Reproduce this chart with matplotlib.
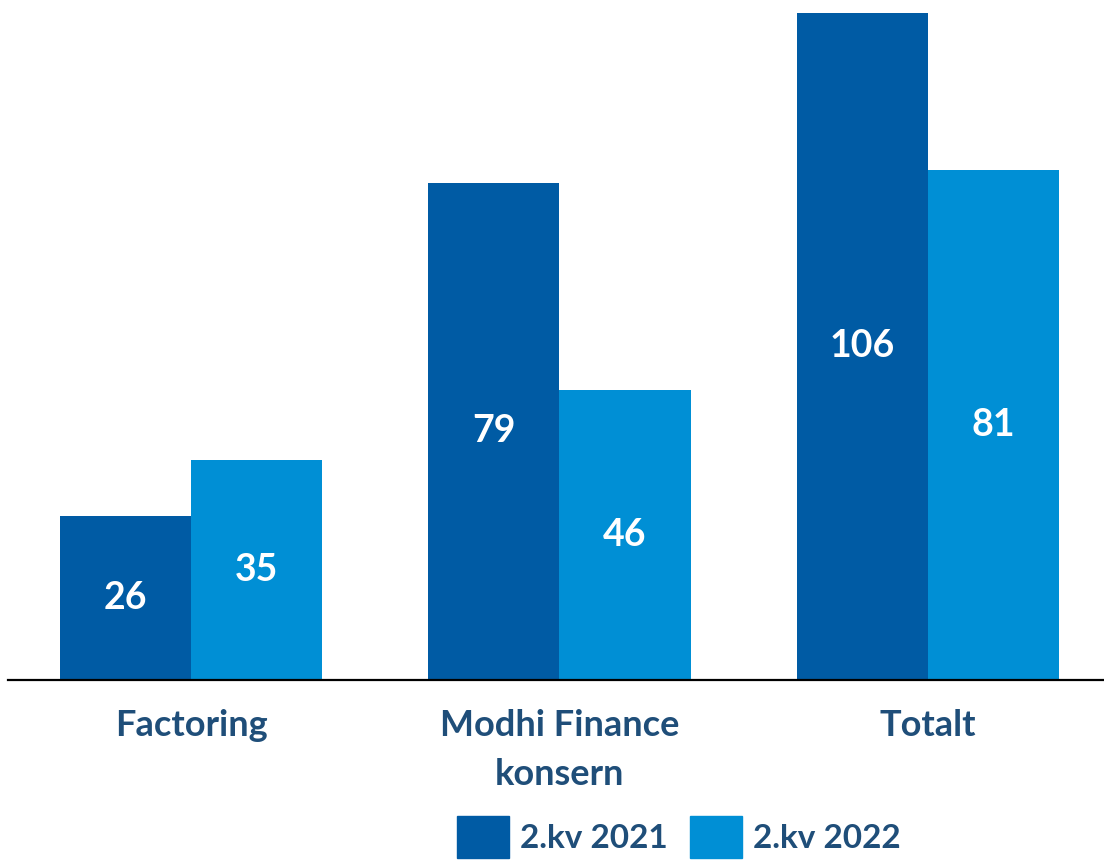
import numpy as np
import matplotlib.pyplot as plt
from matplotlib.patches import Patch

# Data
kategoriar = ["Factoring", "Modhi Finance\nkonsern", "Totalt"]
serie_namn = ["2.kv 2021", "2.kv 2022"]
verdiar_2021 = [26, 79, 106]
verdiar_2022 = [35, 46, 81]

# Fargar
mork_bla = "#005BA4"
lys_bla = "#008FD5"
tekstfarge = "#1F4E79"

plt.rcParams['font.family'] = ['Lato', 'DejaVu Sans']

fig = plt.figure(figsize=(11.04, 8.6), dpi=100)
ax = fig.add_axes([8/1104, 1 - 680/860, 1 - 8/1104, 680/860])

x = np.arange(len(kategoriar))
b = 0.356

bar1 = ax.bar(x - b/2, verdiar_2021, width=b, color=mork_bla)
bar2 = ax.bar(x + b/2, verdiar_2022, width=b, color=lys_bla)

# Verdiar midt i stolpane
for stolpar, verdiar in [(bar1, verdiar_2021), (bar2, verdiar_2022)]:
    for s, v in zip(stolpar, verdiar):
        ax.text(s.get_x() + s.get_width()/2, v/2, str(v), ha='center', va='center',
                color='white', fontsize=27, fontweight='bold')

ax.set_xlim(-0.497, 2.478)
ax.set_ylim(0, 108)

ax.set_xticks(x)
ax.set_xticklabels(kategoriar, fontsize=26, fontweight='bold', color=tekstfarge,
                   linespacing=1.58)
ax.tick_params(axis='x', length=0, pad=21)
ax.set_yticks([])

for side in ['top', 'right', 'left']:
    ax.spines[side].set_visible(False)
ax.spines['bottom'].set_linewidth(1.6)
ax.spines['bottom'].set_color('black')

# Forklaring
handtak = [Patch(color=mork_bla), Patch(color=lys_bla)]
leg = fig.legend(handtak, serie_namn, loc='upper left', bbox_to_anchor=(457/1104, 1 - 816/860),
                 ncol=2, frameon=False, prop={'size': 24, 'weight': 'bold'},
                 handlelength=1.56, handleheight=1.56, handletextpad=0.32,
                 columnspacing=0.68, borderpad=0, borderaxespad=0)
for t in leg.get_texts():
    t.set_color(tekstfarge)

fig.savefig("out.png", dpi=100)
